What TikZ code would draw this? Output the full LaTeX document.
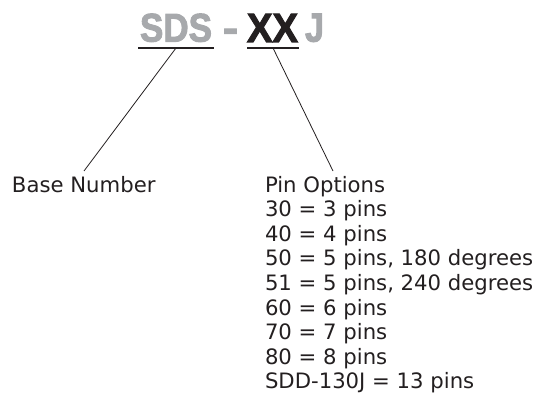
\documentclass[tikz,border=0pt]{standalone}
\usepackage{fontspec}
\setmainfont{DejaVu Sans}
\newfontfamily\headfont{Liberation Sans}[BoldFeatures={FakeBold=2.5}]
\definecolor{hgray}{HTML}{A7A9AC}
\definecolor{ink}{HTML}{231F20}
\begin{document}
\begin{tikzpicture}[x=1pt,y=-1pt,
  hd/.style={inner sep=0pt,outer sep=0pt,anchor=south west},
  lbl/.style={inner sep=0pt,outer sep=0pt,anchor=base west,text=ink,font=\fontsize{21.2}{24.6}\selectfont},
  conn/.style={draw=ink,line width=0.8pt},
  uline/.style={draw=ink,line width=1.1pt}]
\useasboundingbox (0,0) rectangle (540,401);
% header
\node[hd,text=hgray] (sds) at (140,42) {\resizebox{72pt}{28pt}{\headfont\bfseries SDS}};
\node[hd,text=hgray] (dash) at (223,42) {\resizebox{15pt}{28pt}{\headfont\bfseries \vphantom{S}-}};
\node[hd,text=ink] (xx) at (247,42) {\resizebox{51pt}{28pt}{\headfont\bfseries XX}};
\node[hd,text=hgray] (j) at (305,42) {\resizebox{19pt}{28pt}{\headfont\bfseries J}};
% underlines
\coordinate (sdsL) at (138,48);
\coordinate (sdsR) at (214,48);
\coordinate (xxL) at (247,48);
\coordinate (xxR) at (299,48);
\draw[uline] (sdsL) -- (sdsR);
\draw[uline] (xxL) -- (xxR);
% labels
\node[lbl] (base) at (12,192) {Base Number};
\node[lbl] (pin) at (265,192) {Pin Options};
\foreach \t [count=\i] in {30 = 3 pins,40 = 4 pins,{50 = 5 pins, 180 degrees},{51 = 5 pins, 240 degrees},60 = 6 pins,70 = 7 pins,80 = 8 pins,SDD-130J = 13 pins}
  \node[lbl] (opt\i) at (265,{192+24.6*\i}) {\t};
% connectors
\coordinate (sdsM) at (176,48);
\coordinate (xxM) at (273,48);
\coordinate (baseT) at (84,171);
\coordinate (pinT) at (333,171);
\draw[conn] (sdsM) -- (baseT);
\draw[conn] (xxM) -- (pinT);
\end{tikzpicture}
\end{document}
